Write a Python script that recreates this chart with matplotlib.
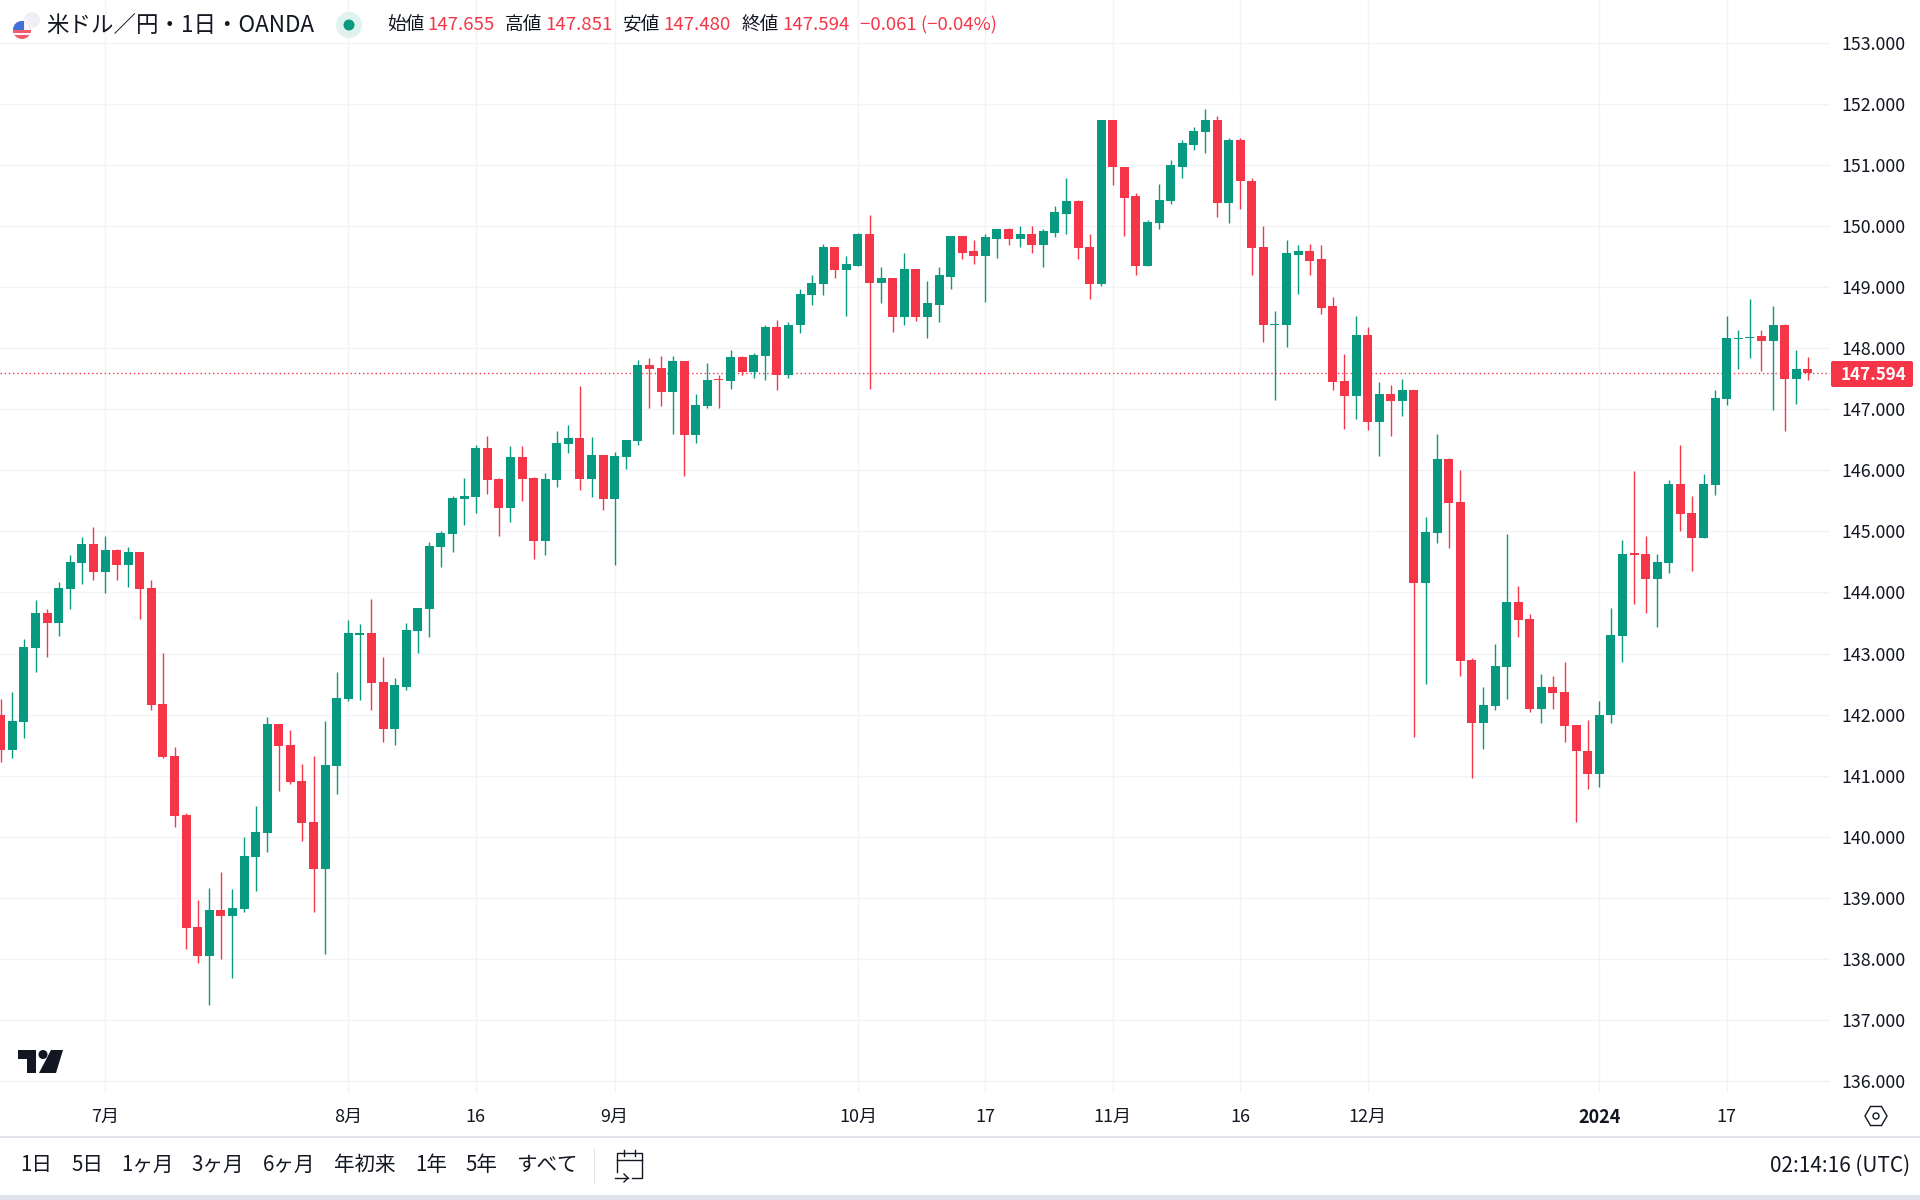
import matplotlib
matplotlib.use('Agg')
import matplotlib.pyplot as plt
from matplotlib.patches import Circle, Polygon, Rectangle, FancyBboxPatch, RegularPolygon

plt.rcParams['font.family'] = ['Noto Sans CJK JP', 'DejaVu Sans']

# daily candles
opens = [141.99, 141.42, 141.88, 143.09, 143.66, 143.50, 144.06, 144.48, 144.79, 144.33,
         144.69, 144.45, 144.66, 144.07, 142.17, 141.32, 140.36, 138.52, 138.05, 138.80,
         138.70, 138.82, 139.67, 140.06, 141.85, 141.50, 140.91, 140.24, 139.47, 141.16,
         142.26, 143.31, 143.33, 142.53, 141.76, 142.46, 143.37, 143.73, 144.74, 144.96,
         145.53, 145.56, 146.37, 145.86, 145.38, 146.22, 145.87, 144.84, 145.84, 146.43,
         146.53, 145.86, 146.25, 145.53, 146.22, 146.48, 147.73, 147.68, 147.28, 147.79,
         146.58, 147.05, 147.48, 147.46, 147.86, 147.60, 147.87, 148.35, 147.56, 148.37,
         148.87, 149.05, 149.66, 149.28, 149.35, 149.87, 149.07, 149.14, 148.50, 149.30,
         148.51, 148.71, 149.17, 149.83, 149.58, 149.51, 149.79, 149.94, 149.79, 149.87,
         149.69, 149.89, 150.20, 150.40, 149.65, 149.05, 151.73, 150.97, 150.48, 149.35,
         150.05, 150.40, 150.97, 151.33, 151.53, 151.73, 150.37, 151.40, 150.74, 149.65,
         148.38, 148.38, 149.53, 149.58, 149.45, 148.68, 147.46, 147.22, 148.22, 146.79,
         147.24, 147.14, 147.32, 144.15, 144.97, 146.19, 145.48, 142.89, 141.86, 142.14,
         142.78, 143.84, 143.56, 142.10, 142.45, 142.37, 141.83, 141.41, 141.02, 141.99,
         143.28, 144.63, 144.63, 144.22, 144.48, 145.78, 145.30, 144.89, 145.76, 147.17,
         148.15, 148.17, 148.19, 148.12, 148.37, 147.50, 147.655]
highs = [142.26, 142.37, 143.24, 143.88, 143.73, 144.17, 144.61, 144.91, 145.07, 144.92,
         144.71, 144.74, 144.66, 144.20, 143.01, 141.47, 140.39, 138.97, 139.16, 139.42,
         139.15, 140.00, 140.50, 141.96, 141.85, 141.75, 141.19, 141.32, 141.90, 142.70,
         143.55, 143.48, 143.89, 142.94, 142.60, 143.50, 143.74, 144.83, 145.01, 145.58,
         145.87, 146.42, 146.56, 145.87, 146.40, 146.40, 145.89, 145.96, 146.64, 146.74,
         147.38, 146.55, 146.25, 146.30, 146.50, 147.81, 147.83, 147.87, 147.87, 147.79,
         147.24, 147.76, 147.56, 147.96, 147.87, 147.92, 148.37, 148.46, 148.42, 148.97,
         149.19, 149.71, 149.66, 149.51, 149.89, 150.17, 149.32, 149.14, 149.55, 149.30,
         149.10, 149.33, 149.84, 149.83, 149.76, 149.86, 149.94, 149.97, 150.00, 150.00,
         149.94, 150.32, 150.79, 150.42, 149.86, 151.73, 151.73, 150.97, 150.53, 150.09,
         150.69, 151.07, 151.40, 151.61, 151.92, 151.79, 151.43, 151.43, 150.78, 149.99,
         148.60, 149.76, 149.69, 149.71, 149.68, 148.84, 147.91, 148.53, 148.35, 147.45,
         147.40, 147.50, 147.32, 145.24, 146.60, 146.20, 146.01, 142.92, 142.46, 143.15,
         144.96, 144.10, 143.64, 142.66, 142.64, 142.86, 141.83, 141.91, 142.22, 143.74,
         144.86, 145.99, 144.92, 144.63, 145.84, 146.42, 145.58, 145.94, 147.32, 148.53,
         148.30, 148.81, 148.30, 148.69, 148.40, 147.96, 147.851]
lows = [141.22, 141.29, 141.62, 142.70, 142.94, 143.29, 143.73, 144.14, 144.20, 143.99,
        144.20, 144.09, 143.57, 142.08, 141.29, 140.16, 138.16, 137.94, 137.25, 138.00,
        137.69, 138.77, 139.11, 139.75, 140.75, 140.86, 139.93, 138.77, 138.08, 140.70,
        142.22, 142.24, 142.07, 141.55, 141.51, 142.40, 143.01, 143.27, 144.42, 144.66,
        145.10, 145.30, 145.61, 144.92, 145.15, 145.50, 144.55, 144.61, 145.73, 146.28,
        145.68, 145.56, 145.35, 144.45, 146.02, 146.42, 147.02, 147.05, 146.60, 145.91,
        146.45, 147.02, 147.02, 147.33, 147.56, 147.51, 147.48, 147.32, 147.51, 148.25,
        148.71, 148.87, 149.15, 148.53, 149.35, 147.33, 148.74, 148.27, 148.37, 148.45,
        148.17, 148.43, 148.96, 149.46, 149.38, 148.76, 149.48, 149.68, 149.66, 149.56,
        149.33, 149.81, 149.87, 149.46, 148.81, 149.01, 150.66, 149.84, 149.20, 149.35,
        149.94, 150.35, 150.78, 151.24, 151.20, 150.15, 150.05, 150.28, 149.20, 148.10,
        147.15, 148.02, 148.89, 149.20, 148.55, 147.32, 146.68, 146.84, 146.66, 146.24,
        146.56, 146.89, 141.63, 142.50, 144.81, 144.73, 142.63, 140.96, 141.43, 142.07,
        142.25, 143.27, 142.04, 141.86, 142.09, 141.55, 140.25, 140.79, 140.81, 141.86,
        142.86, 143.81, 143.66, 143.43, 144.32, 145.01, 144.35, 144.89, 145.60, 147.07,
        147.66, 147.84, 147.63, 146.99, 146.65, 147.09, 147.480]
closes = [141.42, 141.90, 143.11, 143.66, 143.50, 144.07, 144.50, 144.79, 144.33, 144.69,
          144.45, 144.66, 144.06, 142.16, 141.31, 140.34, 138.51, 138.05, 138.80, 138.70,
          138.84, 139.69, 140.08, 141.85, 141.49, 140.90, 140.23, 139.47, 141.18, 142.27,
          143.34, 143.33, 142.51, 141.76, 142.48, 143.38, 143.74, 144.76, 144.97, 145.55,
          145.58, 146.37, 145.84, 145.38, 146.22, 145.86, 144.84, 145.86, 146.45, 146.53,
          145.86, 146.25, 145.53, 146.23, 146.50, 147.73, 147.66, 147.28, 147.79, 146.58,
          147.07, 147.48, 147.47, 147.86, 147.60, 147.89, 148.35, 147.56, 148.38, 148.89,
          149.07, 149.66, 149.28, 149.37, 149.87, 149.07, 149.14, 148.50, 149.30, 148.51,
          148.73, 149.19, 149.83, 149.56, 149.51, 149.81, 149.94, 149.79, 149.87, 149.69,
          149.91, 150.22, 150.40, 149.63, 149.05, 151.73, 150.96, 150.46, 149.35, 150.07,
          150.42, 150.99, 151.35, 151.55, 151.73, 150.37, 151.40, 150.73, 149.63, 148.38,
          148.39, 149.55, 149.58, 149.43, 148.66, 147.45, 147.22, 148.22, 146.79, 147.24,
          147.14, 147.32, 144.15, 144.99, 146.19, 145.46, 142.87, 141.86, 142.15, 142.79,
          143.84, 143.55, 142.10, 142.45, 142.35, 141.81, 141.40, 141.02, 142.00, 143.30,
          144.63, 144.62, 144.22, 144.50, 145.78, 145.28, 144.89, 145.78, 147.19, 148.17,
          148.17, 148.18, 148.12, 148.37, 147.50, 147.66, 147.594]

price_ticks = [136, 137, 138, 139, 140, 141, 142, 143, 144, 145, 146, 147, 148, 149, 150, 151, 152, 153]
date_ticks = [9, 30, 41, 53, 74, 85, 96, 107, 118, 138, 149]
date_labels = ['7月', '8月', '16', '9月', '10月', '17', '11月', '16', '12月', '2024', '17']
last_price = 147.594

UP = '#089981'
DOWN = '#f43648'
GRID = '#f2f3f6'
TEXT = '#131722'

fig = plt.figure(figsize=(19.2, 12), dpi=100, facecolor='white')

# chart pane
ax = fig.add_axes([0, 107 / 1200, 1830 / 1920, 1093 / 1200])
ax.set_xlim(-0.07, 157.915)
ax.set_ylim(135.807, 153.696)
for s in ax.spines.values():
    s.set_visible(False)
ax.set_axisbelow(True)
ax.grid(True, color=GRID, lw=1)

ax.axhline(last_price, color=DOWN, lw=1, ls=(0, (1, 2)), zorder=1.5)

for i in range(len(opens)):
    c = UP if closes[i] >= opens[i] else DOWN
    ax.vlines(i, lows[i], highs[i], color=c, lw=1, zorder=2)
    bottom = min(opens[i], closes[i])
    height = max(abs(closes[i] - opens[i]), 0.018)
    ax.bar(i, height, bottom=bottom, width=0.777, color=c, lw=0, zorder=3)

ax.set_yticks(price_ticks)
ax.set_yticklabels([f'{p:.3f}' for p in price_ticks])
ax.yaxis.tick_right()
ax.set_xticks(date_ticks)
ax.set_xticklabels(date_labels)
ax.tick_params(axis='y', length=0, pad=8.5, labelsize=12.8, labelcolor=TEXT)
ax.tick_params(axis='x', length=0, pad=11, labelsize=13, labelcolor=TEXT)
ax.get_xticklabels()[9].set_fontweight('bold')

# everything around the chart, in pixel coordinates
ui = fig.add_axes([0, 0, 1, 1], facecolor='none')
ui.set_xlim(0, 1920)
ui.set_ylim(1200, 0)
ui.axis('off')

# last price tag
ui.add_patch(FancyBboxPatch((1831, 361), 82, 26, boxstyle='round,pad=0,rounding_size=2', fc=DOWN, ec='none'))
ui.text(1906, 375, f'{last_price:.3f}', color='white', fontsize=12.2, fontweight='bold', ha='right', va='center')

# flag
ui.add_patch(Circle((32, 20), 8, fc='#eef0f6', ec='none'))
arc = Rectangle((27, 12), 10, 8, fc='#f25b68', ec='none')
ui.add_patch(arc)
arc.set_clip_path(ui.patches[0])
ui.add_patch(Circle((22, 30), 10.5, fc='white', ec='none'))
disc = Circle((22, 30), 9, fc='#f25b68', ec='none')
ui.add_patch(disc)
for y, h, col in [(21, 9, '#f4f6fb'), (30.5, 2, '#f25b68'), (32.5, 2, '#f4f6fb')]:
    stripe = Rectangle((13, y), 18, h, fc=col, ec='none')
    ui.add_patch(stripe)
    stripe.set_clip_path(disc)
canton = Rectangle((13, 21), 11, 9, fc='#3f6fd8', ec='none')
ui.add_patch(canton)
canton.set_clip_path(disc)

# header
ui.text(46, 25, '米ドル／円・1日・OANDA', color=TEXT, fontsize=16.2, ha='left', va='center')
ui.add_patch(Circle((349, 25), 13, fc='#dff2ee', ec='none'))
ui.add_patch(Circle((349, 25), 5.5, fc=UP, ec='none'))
head_names = ['始値', '高値', '安値', '終値']
head_values = ['147.655', '147.851', '147.480', '147.594']
head_x = [387, 505, 623, 742]
for name, value, x in zip(head_names, head_values, head_x):
    ui.text(x, 25, name, color=TEXT, fontsize=13.4, ha='left', va='center')
    ui.text(x + 40, 25, value, color=DOWN, fontsize=13.4, ha='left', va='center')
ui.text(860, 25, '−0.061 (−0.04%)', color=DOWN, fontsize=13.4, ha='left', va='center')

# tradingview logo
ui.add_patch(Polygon([(18, 1050), (36, 1050), (36, 1073), (27, 1073), (27, 1059), (18, 1059)], fc=TEXT, ec='none'))
ui.add_patch(Circle((43, 1054.5), 4.5, fc=TEXT, ec='none'))
ui.add_patch(Polygon([(51, 1050), (63, 1050), (56, 1073), (39, 1073)], fc=TEXT, ec='none'))

# settings icon next to the time axis
ui.add_patch(RegularPolygon((1876, 1116), 6, radius=11, orientation=0.5236 * 3, fc='none', ec=TEXT, lw=1))
ui.add_patch(Circle((1876, 1116), 3, fc='none', ec=TEXT, lw=1))

# bottom bar
ui.add_patch(Rectangle((0, 1136), 1920, 1.5, fc='#e0e3eb', ec='none'))
ui.add_patch(Rectangle((0, 1195), 1920, 5, fc='#e0e3eb', ec='none'))
ui.add_patch(Rectangle((593.5, 1149), 1.5, 34, fc='#e0e3eb', ec='none'))
range_labels = ['1日', '5日', '1ヶ月', '3ヶ月', '6ヶ月', '年初来', '1年', '5年', 'すべて']
range_x = [36.5, 87, 147, 218, 289, 365, 431, 481, 547]
for label, x in zip(range_labels, range_x):
    ui.text(x, 1165, label, color=TEXT, fontsize=14.8, ha='center', va='center')
ui.text(1910, 1166, '02:14:16 (UTC)', color=TEXT, fontsize=15, ha='right', va='center')

# go to date icon
ui.plot([617, 617, 642, 642, 632], [1172, 1153, 1153, 1178, 1178], color=TEXT, lw=1)
ui.plot([617, 642], [1160, 1160], color=TEXT, lw=1)
ui.plot([624, 624], [1150, 1156], color=TEXT, lw=1)
ui.plot([635, 635], [1150, 1156], color=TEXT, lw=1)
ui.plot([615, 628], [1178, 1178], color=TEXT, lw=1)
ui.plot([624, 628, 624], [1174, 1178, 1182], color=TEXT, lw=1)

plt.savefig('out.png', dpi=100)
plt.close()
